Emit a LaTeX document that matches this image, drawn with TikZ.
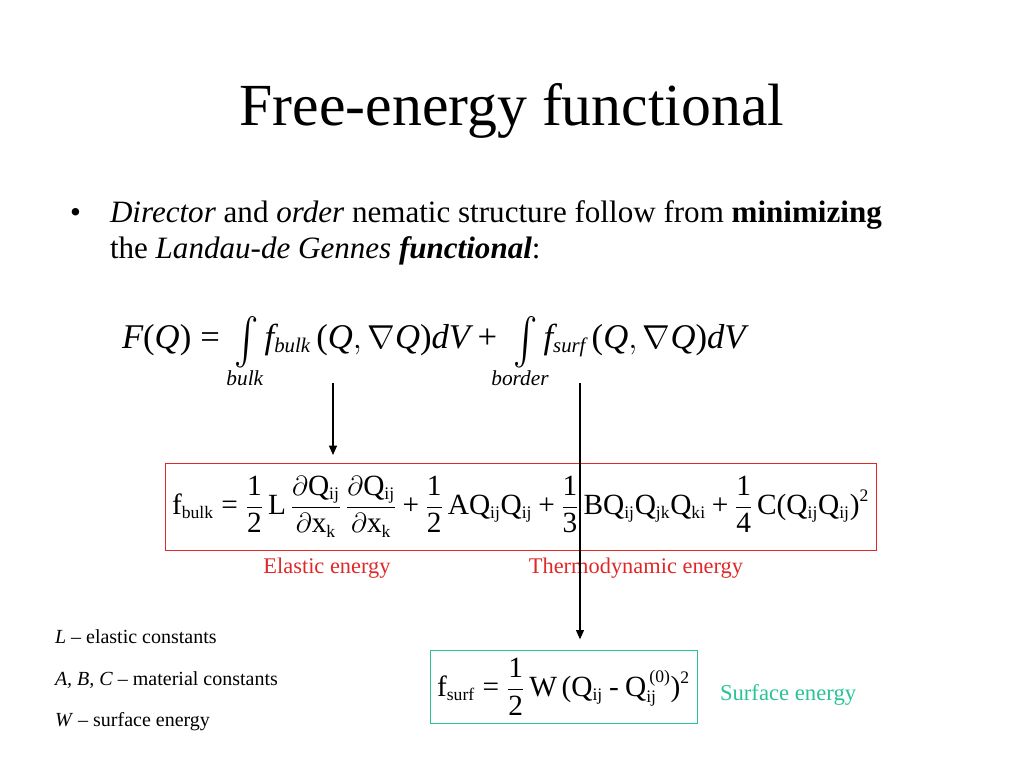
\documentclass[tikz,border=0pt]{standalone}
\usepackage{amsmath}
\usepackage{graphicx}
\usepackage{fontspec}
\setmainfont{Liberation Serif}
\usetikzlibrary{arrows.meta}
\renewcommand{\defaultscriptratio}{.6}

\definecolor{boxred}{RGB}{225,40,40}
\definecolor{surfgreen}{RGB}{40,195,150}
\newcommand{\Qij}{\mathrm{Q}_{\mathrm{ij}}}
\newcommand{\numfrac}[2]{\frac{\text{#1}}{\text{#2}}}
\newcommand{\plussign}{\mathbin{\text{+}}}
\newcommand{\eqsign}{\mathrel{\text{=}}}
\newcommand{\lpar}{\mathopen{\text{(}}}
\newcommand{\rpar}{\mathclose{\text{)}}}
\newcommand{\tallint}{\mathop{\raisebox{-4.5pt}{\scalebox{1.1}[1.4]{$\int$}}}}

\begin{document}
\begin{tikzpicture}[
x=0.75pt, y=-0.75pt,
every node/.style={inner sep=0pt, outer sep=0pt},
txt/.style={anchor=base west},
eqbox/.style={draw, line width=0.6pt, inner sep=0pt},
link/.style={line width=0.9pt, -{Triangle[length=7pt,width=6pt]}}
]
\useasboundingbox (0,0) rectangle (1024,768);

\node[anchor=base] (title) at (512,125) {\fontsize{44.8}{50}\selectfont Free-energy functional};

\node[txt] (dot) at (70,222) {\fontsize{23.3}{26}\selectfont •};
\node[txt] (line1) at (110,222) {\fontsize{23.3}{26}\selectfont \textit{Director} and \textit{order} nematic structure follow from \textbf{minimizing}};
\node[txt] (line2) at (110,258) {\fontsize{23.3}{26}\selectfont the \textit{Landau-de Gennes} \textbf{\textit{functional}}:};

\node[txt] (functional) at (122,348) {\fontsize{26}{30}\selectfont
  $\mathit{F}\lpar\mathit{Q}\rpar \eqsign \,\tallint \mathit{f}_{\mathit{bulk}}\,\lpar\mathit{Q},\nabla\mathit{Q}\rpar\mathit{dV} \plussign \;\tallint \mathit{f}_{\mathit{surf}}\,\lpar\mathit{Q},\nabla\mathit{Q}\rpar\mathit{dV}$};
\node[anchor=base] (bulklim) at (245,385) {\fontsize{16}{18}\selectfont\textit{bulk}};
\node[anchor=base] (borderlim) at (520,385) {\fontsize{16}{18}\selectfont\textit{border}};

\node[eqbox, draw=boxred, minimum width=533.25pt, minimum height=65.25pt] (fbulk) at (520.5,506.5)
  {\fontsize{22}{26}\selectfont $\displaystyle
  \mathrm{f}_{\mathrm{bulk}} \eqsign \numfrac{1}{2}\,\mathrm{L}\,\frac{\partial\Qij}{\partial\mathrm{x}_{\mathrm{k}}}\,\frac{\partial\Qij}{\partial\mathrm{x}_{\mathrm{k}}}
  \plussign \numfrac{1}{2}\,\mathrm{A}\Qij\Qij \plussign \numfrac{1}{3}\,\mathrm{B}\Qij\mathrm{Q}_{\mathrm{jk}}\mathrm{Q}_{\mathrm{ki}}
  \plussign \numfrac{1}{4}\,\mathrm{C}\lpar\Qij\Qij\rpar^{\text{2}}$};
\node[anchor=base, text=boxred] (elastic) at (327,573) {\fontsize{16.8}{18}\selectfont Elastic energy};
\node[anchor=base, text=boxred] (thermo) at (636,573) {\fontsize{16.8}{18}\selectfont Thermodynamic energy};

\node[eqbox, draw=surfgreen, minimum width=200.25pt, minimum height=54.75pt] (fsurf) at (563.5,686.5)
  {\fontsize{22}{26}\selectfont $\displaystyle
  \mathrm{f}_{\mathrm{surf}} \eqsign \numfrac{1}{2}\,\mathrm{W}\,\lpar\Qij \mathbin{\text{-}} \mathrm{Q}_{\mathrm{ij}}^{\,\text{(0)}}\rpar^{\text{2}}$};
\node[txt, text=surfgreen] (surflabel) at (720,700) {\fontsize{17}{20}\selectfont Surface energy};

\node[txt] (legendL) at (55,643) {\fontsize{15}{18}\selectfont \textit{L} – elastic constants};
\node[txt] (legendABC) at (55,685) {\fontsize{15}{18}\selectfont \textit{A, B, C} – material constants};
\node[txt] (legendW) at (55,726) {\fontsize{15}{18}\selectfont \textit{W} – surface energy};

\coordinate (bulkfoot) at (333,383);
\coordinate (surffoot) at (580,383);
\draw[link, shorten >=6pt] (bulkfoot) -- (bulkfoot |- fbulk.north);
\draw[link, shorten >=8pt] (surffoot) -- (surffoot |- fsurf.north);
\end{tikzpicture}
\end{document}
